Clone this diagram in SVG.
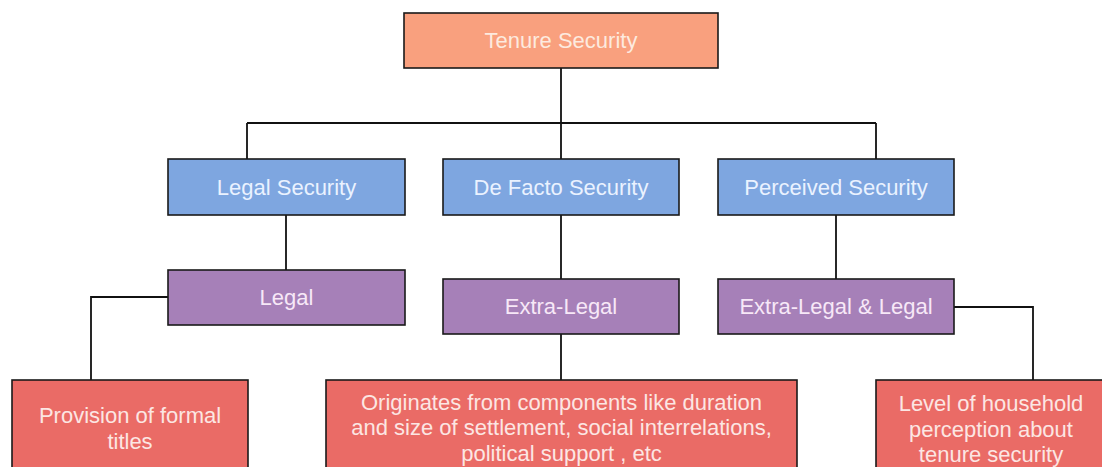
<svg xmlns="http://www.w3.org/2000/svg" width="1102" height="467" viewBox="0 0 1102 467">
<style>
.box{stroke:#1a1a1a;stroke-width:1.6}
.t{font-family:"Liberation Sans",Arial,sans-serif;font-size:22px;text-anchor:middle}
.top{fill:#F9A07E}
.blue{fill:#7EA6E0}
.purple{fill:#A680B8}
.red{fill:#EA6B66}
.tt{fill:#fdeadf}
.tb{fill:#eaf2ff}
.tp{fill:#f7e8f7}
.tr{fill:#fce6e3}
.conn{fill:none;stroke:#111;stroke-width:1.8}
</style>
<rect width="1102" height="467" fill="#ffffff"/>
<g id="connectors" class="conn">
<path d="M561,68V123M247,123H876M247,123V159M561,123V159M876,123V159"/>
<path d="M286,215V270"/>
<path d="M561,215V279"/>
<path d="M836,215V279"/>
<path d="M168,297H91V380"/>
<path d="M561,334V380"/>
<path d="M954,307H1033V380"/>
</g>
<g id="tenure"><rect class="box top" x="404" y="13" width="314" height="55"/><text class="t tt" x="561" y="48">Tenure Security</text></g>
<g id="legal-security"><rect class="box blue" x="168" y="159" width="237" height="56"/><text class="t tb" x="286.5" y="195">Legal Security</text></g>
<g id="defacto-security"><rect class="box blue" x="443" y="159" width="236" height="56"/><text class="t tb" x="561" y="195">De Facto Security</text></g>
<g id="perceived-security"><rect class="box blue" x="718" y="159" width="236" height="56"/><text class="t tb" x="836" y="195">Perceived Security</text></g>
<g id="legal"><rect class="box purple" x="168" y="270" width="237" height="55"/><text class="t tp" x="286.5" y="305">Legal</text></g>
<g id="extra-legal"><rect class="box purple" x="443" y="279" width="236" height="55"/><text class="t tp" x="561" y="314">Extra-Legal</text></g>
<g id="extra-legal-legal"><rect class="box purple" x="718" y="279" width="236" height="55"/><text class="t tp" x="836" y="314">Extra-Legal &amp; Legal</text></g>
<g id="provision"><rect class="box red" x="12" y="380" width="236" height="100"/><text class="t tr" x="130" y="423">Provision of formal</text><text class="t tr" x="130" y="449">titles</text></g>
<g id="originates"><rect class="box red" x="326" y="380" width="471" height="100"/><text class="t tr" x="561.5" y="410">Originates from components like duration</text><text class="t tr" x="561.5" y="435">and size of settlement, social interrelations,</text><text class="t tr" x="561.5" y="461">political support , etc</text></g>
<g id="level"><rect class="box red" x="876" y="380" width="230" height="100"/><text class="t tr" x="991" y="411">Level of household</text><text class="t tr" x="991" y="437">perception about</text><text class="t tr" x="991" y="462">tenure security</text></g>
</svg>
